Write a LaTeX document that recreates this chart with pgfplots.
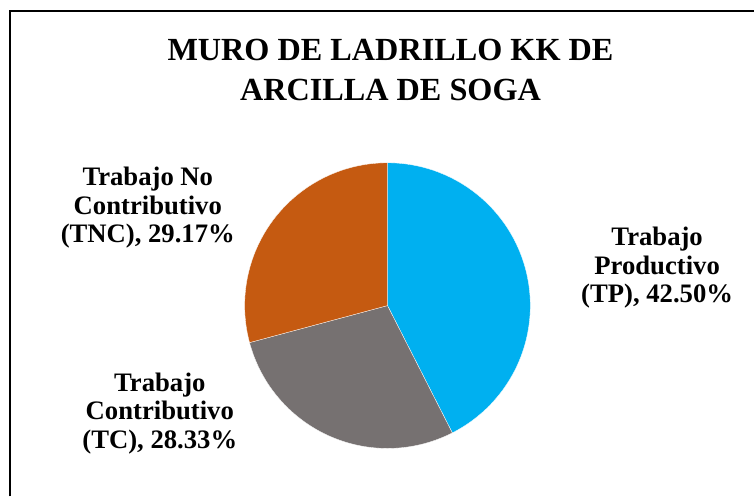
\documentclass[border=0pt]{standalone}
\usepackage{pgfplots}
\pgfplotsset{compat=1.18}
\usepackage{fontspec}
\setmainfont{Liberation Serif}
\definecolor{tpblue}{HTML}{00B0F0}
\definecolor{tcgray}{HTML}{767171}
\definecolor{tncorange}{HTML}{C55A11}
\begin{document}
\begin{tikzpicture}
% percentages
\def\TP{42.50}
\def\TC{28.33}
\def\TNC{29.17}
\pgfmathsetmacro{\aA}{90}
\pgfmathsetmacro{\aB}{90-3.6*\TP}
\pgfmathsetmacro{\aC}{\aB-3.6*\TC}
\pgfmathsetmacro{\aD}{\aC-3.6*\TNC}
\begin{axis}[
  scale only axis, width=755bp, height=497bp,
  xmin=0, xmax=755, ymin=0, ymax=497, y dir=reverse,
  hide axis, clip=false,
]
\path[draw=none] (axis cs:0,0) rectangle (axis cs:755,497);
\addplot[fill=tpblue, draw=white, line width=0.3pt, domain=\aB:\aA, samples=120]
  ({388+143*cos(x)},{306-143*sin(x)}) -- (axis cs:388,306) -- cycle;
\addplot[fill=tcgray, draw=white, line width=0.3pt, domain=\aC:\aB, samples=120]
  ({388+143*cos(x)},{306-143*sin(x)}) -- (axis cs:388,306) -- cycle;
\addplot[fill=tncorange, draw=white, line width=0.3pt, domain=\aD:\aC, samples=120]
  ({388+143*cos(x)},{306-143*sin(x)}) -- (axis cs:388,306) -- cycle;
\draw[line width=2bp, black] (axis cs:10,497) -- (axis cs:10,11) -- (axis cs:755,11);
\node[align=center, font=\fontsize{32.4}{40}\selectfont\bfseries] at (axis cs:391,70)
  {MURO DE LADRILLO KK DE\\ARCILLA DE SOGA};
\node[align=center, font=\fontsize{26.8}{28.5}\selectfont\bfseries] at (axis cs:658,268)
  {Trabajo\\Productivo\\(TP), 42.50\%};
\node[align=center, font=\fontsize{26.8}{28.5}\selectfont\bfseries] at (axis cs:160,414)
  {Trabajo\\Contributivo\\(TC), 28.33\%};
\node[align=center, font=\fontsize{26.8}{28.5}\selectfont\bfseries] at (axis cs:148,208)
  {Trabajo No\\Contributivo\\(TNC), 29.17\%};
\end{axis}
\end{tikzpicture}
\end{document}
